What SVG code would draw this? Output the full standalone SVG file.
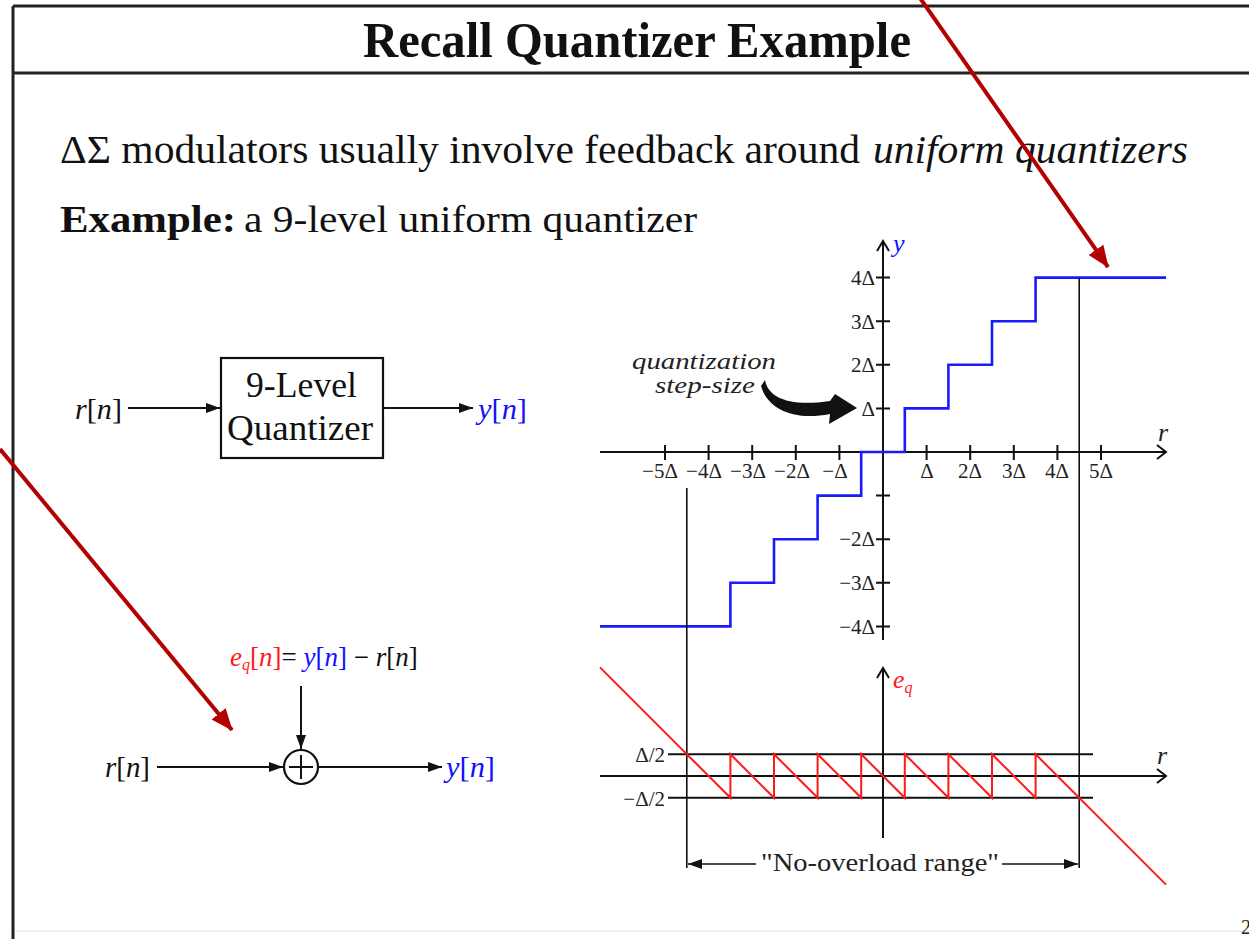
<svg xmlns="http://www.w3.org/2000/svg" width="1249" height="939" viewBox="0 0 1249 939">
  <style>
    .serif { font-family: "Liberation Serif", "Times New Roman", serif; }
    .it { font-style: italic; }
    .blue { fill: #1010ff; }
    .red { fill: #ff1a1a; }
    .ln { stroke: #111; stroke-width: 2; fill: none; }
    .thin { stroke: #111; stroke-width: 1.6; fill: none; }
    .frame { stroke: #222; stroke-width: 3; fill: none; }
    .tick { font-family: "Liberation Serif", serif; font-size: 21px; fill: #222; }
    .annot { stroke: #b30000; stroke-width: 4; fill: none; }
  </style>
  <defs>
    <marker id="tri" viewBox="0 0 14 10" refX="14" refY="5" markerWidth="14" markerHeight="10" markerUnits="userSpaceOnUse" orient="auto">
      <path d="M0,0 L14,5 L0,10 Z" fill="#111"/>
    </marker>
    <marker id="redhead" viewBox="0 0 22 18" refX="21" refY="9" markerWidth="22" markerHeight="18" markerUnits="userSpaceOnUse" orient="auto">
      <path d="M0,0 L22,9 L0,18 Z" fill="#b30000"/>
    </marker>
  </defs>

  <rect width="1249" height="939" fill="#fff"/>

  <!-- slide frame -->
  <g id="frame">
    <path class="frame" d="M13,6 H1249 M13,6 V939 M13,73 H1249"/>
    <line x1="15" y1="931" x2="1249" y2="931" stroke="#eeeeee" stroke-width="2"/>
    <text class="serif" x="1241" y="934" font-size="20" fill="#222">2</text>
  </g>

  <!-- title and body text -->
  <g id="title">
    <text class="serif" x="363" y="57" font-size="50" font-weight="bold" fill="#111" textLength="548" lengthAdjust="spacingAndGlyphs">Recall Quantizer Example</text>
  </g>
  <g id="body-text">
    <text class="serif" x="60" y="163" font-size="40" fill="#111" textLength="800" lengthAdjust="spacingAndGlyphs">ΔΣ modulators usually involve feedback around</text>
    <text class="serif it" x="873" y="163" font-size="40" fill="#111" textLength="315" lengthAdjust="spacingAndGlyphs">uniform quantizers</text>
    <text class="serif" x="60" y="232" font-size="38" font-weight="bold" fill="#111" textLength="176" lengthAdjust="spacingAndGlyphs">Example:</text>
    <text class="serif" x="244" y="232" font-size="38" fill="#111" textLength="453" lengthAdjust="spacingAndGlyphs">a 9-level uniform quantizer</text>
  </g>

  <!-- quantizer block -->
  <g id="quantizer-block">
    <rect x="221" y="358" width="162" height="100" fill="#fff" stroke="#111" stroke-width="2.2"/>
    <text class="serif" x="246" y="397" font-size="35" fill="#111" textLength="111" lengthAdjust="spacingAndGlyphs">9-Level</text>
    <text class="serif" x="227" y="440" font-size="35" fill="#111" textLength="146" lengthAdjust="spacingAndGlyphs">Quantizer</text>
  </g>
  <g id="quantizer-in">
    <text class="serif" x="75" y="419" font-size="29" fill="#111" textLength="47" lengthAdjust="spacingAndGlyphs"><tspan class="it">r</tspan>[<tspan class="it">n</tspan>]</text>
  </g>
  <g id="quantizer-out">
    <text class="serif blue" x="478" y="419" font-size="29" textLength="49" lengthAdjust="spacingAndGlyphs"><tspan class="it">y</tspan>[<tspan class="it">n</tspan>]</text>
  </g>

  <!-- additive noise model -->
  <g id="adder">
    <circle cx="301" cy="767" r="17" fill="#fff" stroke="#111" stroke-width="2.2"/>
    <path class="ln" d="M289,767 H313 M301,755 V779"/>
  </g>
  <g id="adder-noise">
    <text class="serif" x="230" y="666" font-size="27" fill="#111"><tspan class="red"><tspan class="it">e</tspan><tspan class="it" font-size="16" dy="4">q</tspan><tspan dy="-4">[</tspan><tspan class="it">n</tspan>]</tspan>= <tspan class="blue"><tspan class="it">y</tspan>[<tspan class="it">n</tspan>]</tspan> − <tspan class="it">r</tspan>[<tspan class="it">n</tspan>]</text>
  </g>
  <g id="adder-in">
    <text class="serif" x="105" y="777" font-size="29" fill="#111" textLength="45" lengthAdjust="spacingAndGlyphs"><tspan class="it">r</tspan>[<tspan class="it">n</tspan>]</text>
  </g>
  <g id="adder-out">
    <text class="serif blue" x="446" y="777" font-size="29" textLength="49" lengthAdjust="spacingAndGlyphs"><tspan class="it">y</tspan>[<tspan class="it">n</tspan>]</text>
  </g>

  <!-- block diagram connectors -->
  <g id="connectors">
    <line class="ln" x1="128" y1="408" x2="220" y2="408" marker-end="url(#tri)"/>
    <line class="ln" x1="383" y1="408" x2="473" y2="408" marker-end="url(#tri)"/>
    <line class="ln" x1="157" y1="767" x2="283" y2="767" marker-end="url(#tri)"/>
    <line class="ln" x1="318" y1="767" x2="442" y2="767" marker-end="url(#tri)"/>
    <line class="ln" x1="301" y1="686" x2="301" y2="749" marker-end="url(#tri)"/>
  </g>

  <!-- transfer characteristic y(r) -->
  <g id="transfer-plot">
    <!-- axes -->
    <path class="ln" d="M883,241 V640 M877,251 L883,241 L889,251"/>
    <path class="ln" d="M600,452 H1166 M1157,445 L1166,452 L1157,459"/>
    <!-- y ticks -->
    <path class="ln" d="M876,277.6 H890 M876,321.2 H890 M876,364.8 H890 M876,408.4 H890 M876,495.6 H890 M876,539.2 H890 M876,582.8 H890 M876,626.4 H890"/>
    <!-- r ticks -->
    <path class="ln" d="M665,445 V460 M708.6,445 V460 M752.2,445 V460 M795.8,445 V460 M839.4,445 V460 M926.6,445 V460 M970.2,445 V460 M1013.8,445 V460 M1057.4,445 V460 M1101,445 V460"/>
    <text class="serif it blue" x="893" y="252" font-size="26">y</text>
    <text class="serif it" x="1158" y="441" font-size="26" fill="#222">r</text>
    <g class="tick" text-anchor="end">
      <text x="875" y="285">4Δ</text>
      <text x="875" y="329">3Δ</text>
      <text x="875" y="372">2Δ</text>
      <text x="875" y="416">Δ</text>
      <text x="875" y="546">−2Δ</text>
      <text x="875" y="590">−3Δ</text>
      <text x="875" y="634">−4Δ</text>
    </g>
    <g class="tick" text-anchor="middle">
      <text x="660" y="478">−5Δ</text>
      <text x="704" y="478">−4Δ</text>
      <text x="748" y="478">−3Δ</text>
      <text x="792" y="478">−2Δ</text>
      <text x="835" y="478">−Δ</text>
      <text x="927" y="478">Δ</text>
      <text x="970" y="478">2Δ</text>
      <text x="1014" y="478">3Δ</text>
      <text x="1057" y="478">4Δ</text>
      <text x="1101" y="478">5Δ</text>
    </g>
    <!-- staircase -->
    <polyline fill="none" stroke="#1a1aff" stroke-width="2.6" points="600,626.4 730.4,626.4 730.4,582.8 774,582.8 774,539.2 817.6,539.2 817.6,495.6 861.2,495.6 861.2,452 904.8,452 904.8,408.4 948.4,408.4 948.4,364.8 992,364.8 992,321.2 1035.6,321.2 1035.6,277.6 1166,277.6"/>
    <!-- step-size callout -->
    <text class="serif it" x="632" y="369" font-size="24" fill="#222" textLength="144" lengthAdjust="spacingAndGlyphs">quantization</text>
    <text class="serif it" x="655" y="393" font-size="24" fill="#222" textLength="100" lengthAdjust="spacingAndGlyphs">step-size</text>
    <path d="M765,380 C768,398 790,407 830,401 L835,394 L857,408 L829,424 L830,414 C795,421 768,410 761,386 Z" fill="#111"/>
  </g>

  <!-- overload limits -->
  <g id="overload-limits">
    <path class="thin" d="M686.8,488 V868 M1079.2,277.6 V868"/>
    <line class="thin" x1="756" y1="864" x2="688" y2="864" marker-end="url(#tri)"/>
    <line class="thin" x1="1002" y1="864" x2="1078" y2="864" marker-end="url(#tri)"/>
    <text class="serif" x="761" y="871" font-size="26" fill="#222" textLength="238" lengthAdjust="spacingAndGlyphs">"No-overload range"</text>
  </g>

  <!-- quantization error e_q(r) -->
  <g id="error-plot">
    <path class="ln" d="M883,668 V838 M877,678 L883,668 L889,678"/>
    <path class="ln" d="M600,776 H1166 M1157,769 L1166,776 L1157,783"/>
    <path class="ln" d="M668,754.2 H1093 M668,797.8 H1093"/>
    <text class="serif it red" x="893" y="688" font-size="26">e<tspan font-size="16" dy="5">q</tspan></text>
    <text class="serif it" x="1157" y="764" font-size="26" fill="#222">r</text>
    <text class="tick" x="665" y="762" text-anchor="end">Δ/2</text>
    <text class="tick" x="665" y="806" text-anchor="end">−Δ/2</text>
    <polyline fill="none" stroke="#ff1a1a" stroke-width="2" points="600,667.4 730.4,797.8 730.4,754.2 774,797.8 774,754.2 817.6,797.8 817.6,754.2 861.2,797.8 861.2,754.2 904.8,797.8 904.8,754.2 948.4,797.8 948.4,754.2 992,797.8 992,754.2 1035.6,797.8 1035.6,754.2 1166,884.6"/>
  </g>

  <!-- red pointer arrows -->
  <g id="pointers">
    <line class="annot" x1="0" y1="449" x2="232" y2="730" marker-end="url(#redhead)"/>
    <line class="annot" x1="920" y1="-2" x2="1108" y2="267" marker-end="url(#redhead)"/>
  </g>
</svg>
